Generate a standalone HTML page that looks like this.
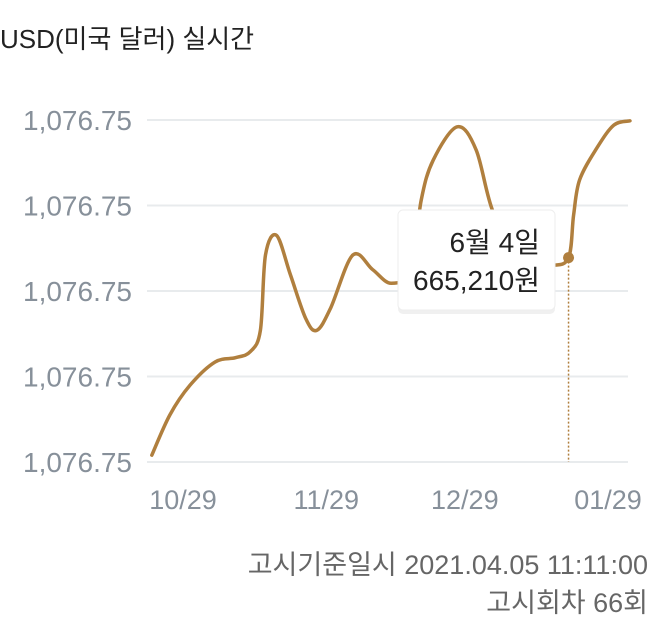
<!DOCTYPE html>
<html><head><meta charset="utf-8"><style>
body{margin:0;width:660px;height:631px;background:#fff;overflow:hidden;font-family:"Liberation Sans","Noto Sans CJK KR",sans-serif}
svg text{font-family:"Liberation Sans","Noto Sans CJK KR",sans-serif}
</style></head><body>
<svg id="c" width="660" height="631"></svg>
<script>
const days=[-6.1,-2.2,2.2,7.6,12,15.2,17.4,18.5,20.9,23.9,27.2,29.6,32.6,37.4,41.7,45.7,50,52.2,54.8,60,64.1,67.8,73.9,80.4,84.1,85.2,86.5,90.2,93.9,97.4];
const values=[0.08,0.55,0.9,1.17,1.22,1.29,1.54,2.42,2.65,2.19,1.68,1.54,1.8,2.42,2.25,2.09,2.25,3.06,3.53,3.92,3.65,2.92,2.34,2.3,2.39,2.89,3.3,3.67,3.94,3.99];
const yTicks=[0,1,2,3,4];
const yTickLabels=["1,076.75","1,076.75","1,076.75","1,076.75","1,076.75"];
const xTicks=[0,31,61,92];
const xTickLabels=["10/29","11/29","12/29","01/29"];
const tipIndex=24;
const tipDate="6월 4일", tipValue="665,210원";

const NS="http://www.w3.org/2000/svg",svg=document.getElementById('c');
const X=d=>180+d*4.62, Y=v=>462-v*85.5;
function el(t,a,txt){const e=document.createElementNS(NS,t);for(const k in a)e.setAttribute(k,a[k]);if(txt!=null)e.textContent=txt;svg.appendChild(e);return e;}
let t=el('text',{x:0,y:48,'font-size':26,fill:'#222'},'USD(미국 달러) 실시간');


yTicks.forEach((v,i)=>{
 const g=el('line',{x1:147,x2:628,y1:Y(v),y2:Y(v),stroke:'#e8ebed','stroke-width':2});
 
 
 const l=el('text',{x:132,y:Y(v)+10,'text-anchor':'end','font-size':28,fill:'#87909a'},yTickLabels[i]);
 
 
});
xTicks.forEach((d,i)=>{
 const l=el('text',{x:X(d)+3,y:509,'text-anchor':'middle','font-size':27,fill:'#87909a'},xTickLabels[i]);
 
 
});
const P=days.map((d,i)=>[X(d),Y(values[i])]);
let p='M'+P[0][0]+','+P[0][1];
for(let i=0;i<P.length-1;i++){const p0=P[i-1]||P[i],p1=P[i],p2=P[i+1],p3=P[i+2]||p2;
 p+=` C${p1[0]+(p2[0]-p0[0])/6},${p1[1]+(p2[1]-p0[1])/6} ${p2[0]-(p3[0]-p1[0])/6},${p2[1]-(p3[1]-p1[1])/6} ${p2[0]},${p2[1]}`;}
const line=el('path',{d:p,fill:'none',stroke:'#b07f3e','stroke-width':3.5,'stroke-linecap':'round'});


const tx=X(days[tipIndex]),ty=Y(values[tipIndex]);
const vl=el('line',{x1:tx,x2:tx,y1:ty,y2:462,stroke:'#b07f3e','stroke-width':1.5,'stroke-dasharray':'2,2'});


const dot=el('circle',{cx:tx,cy:ty,r:5.5,fill:'#b07f3e'});


el('rect',{x:398,y:212,width:157,height:100,rx:5,fill:'#000',opacity:0.06,transform:'translate(0,2)'});
const box=el('rect',{x:398,y:210,width:157,height:100,rx:5,fill:'#fff',stroke:'#eee'});


const t1=el('text',{x:540,y:252,'text-anchor':'end','font-size':28,fill:'#222'},tipDate);


const t2=el('text',{x:540,y:290,'text-anchor':'end','font-size':28,fill:'#222'},tipValue);


const f1=el('text',{x:648,y:574,'text-anchor':'end','font-size':27,fill:'#666'},'고시기준일시 2021.04.05 11:11:00');


const f2=el('text',{x:648,y:612,'text-anchor':'end','font-size':27,fill:'#666'},'고시회차 66회');


</script>
</body></html>
